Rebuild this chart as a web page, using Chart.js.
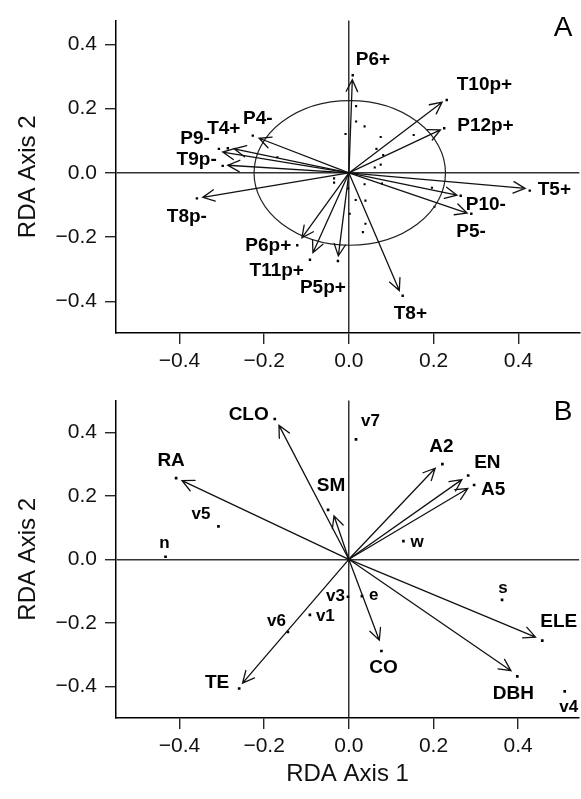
<!DOCTYPE html>
<html><head><meta charset="utf-8">
<script src="https://cdn.jsdelivr.net/npm/chart.js@4/dist/chart.umd.min.js"></script>
<style>
html,body{margin:0;padding:0;background:#fff;width:581px;height:799px;overflow:hidden}
#ca{position:absolute;left:0;top:0}
#cb{position:absolute;left:0;top:380px}
</style></head><body>
<canvas id="ca" width="581" height="380"></canvas>
<canvas id="cb" width="581" height="419"></canvas>
<script>
// ---------- shared ticks ----------
const tickValues = [-0.4, -0.2, 0.0, 0.2, 0.4];

// ---------- Panel A ----------
const arrowLabelsA = ['P6+','T10p+','P12p+','T5+','P10-','P5-','T8+','P5p+','T11p+','P6p+','T8p-','T9p-','P9-','T4+','P4-'];
const arrowTipXA = [0.008, 0.220, 0.216, 0.416, 0.255, 0.279, 0.119, -0.025, -0.085, -0.111, -0.345, -0.286, -0.298, -0.271, -0.212];
const arrowTipYA = [0.290, 0.220, 0.134, -0.048, -0.069, -0.125, -0.366, -0.258, -0.248, -0.202, -0.076, 0.024, 0.065, 0.075, 0.108];
const labelDotXA = [0.009, 0.231, 0.225, 0.427, 0.264, 0.289, 0.127, -0.026, -0.092, -0.122, -0.359, -0.298, -0.307, -0.286, -0.227];
const labelDotYA = [0.304, 0.227, 0.139, -0.055, -0.071, -0.127, -0.382, -0.274, -0.270, -0.225, -0.079, 0.022, 0.075, 0.077, 0.116];
const smallDotXA = [0.017, 0.017, 0.037, -0.008, 0.075, 0.153, 0.065, 0.081, 0.075, 0.061, -0.169, -0.035, -0.035, 0.037, 0.078, 0.196, -0.002, 0.016, 0.039, 0.202, 0.002, 0.039, 0.033];
const smallDotYA = [0.208, 0.160, 0.145, 0.121, 0.112, 0.118, 0.075, 0.056, 0.026, 0.017, 0.049, -0.017, -0.030, -0.035, -0.033, -0.046, -0.048, -0.084, -0.086, -0.105, -0.127, -0.158, -0.184];
const ellipseCenterA = [0.002, 0.0];
const ellipseRadiusA = [0.226, 0.225];

// ---------- Panel B ----------
const arrowLabelsB = ['CLO','RA','SM','A2','EN','A5','TE','CO','ELE','DBH'];
const arrowTipXB = [-0.165, -0.394, -0.035, 0.204, 0.267, 0.281, -0.251, 0.072, 0.441, 0.383];
const arrowTipYB = [0.422, 0.248, 0.137, 0.287, 0.251, 0.223, -0.390, -0.255, -0.245, -0.351];
const arrowDotXB = [-0.175, -0.408, -0.049, 0.221, 0.282, 0.296, -0.259, 0.077, 0.457, 0.398];
const arrowDotYB = [0.442, 0.256, 0.156, 0.300, 0.264, 0.234, -0.407, -0.289, -0.256, -0.369];
const pointLabelsB = ['v7','v5','n','w','v6','v1','v3','e','s','v4'];
const pointXB = [0.017, -0.308, -0.433, 0.129, -0.144, -0.092, -0.002, 0.031, 0.362, 0.510];
const pointYB = [0.378, 0.104, 0.008, 0.057, -0.229, -0.175, -0.118, -0.116, -0.128, -0.416];

// ---------- label placement (style, pixels) ----------
const labelStyle = {
  'P6+':[3,-15,'left'], 'T10p+':[10,-15,'left'], 'P12p+':[13,-3,'left'], 'T5+':[8,-1,'left'],
  'P10-':[5,9,'left'], 'P5-':[-15,18,'left'], 'T8+':[-9,18,'left'], 'P5p+':[-15,27,'center'],
  'T11p+':[-6,11,'right'], 'P6p+':[-6,1,'right'], 'T8p-':[-10,18,'center'], 'T9p-':[-6,-6,'right'],
  'P9-':[-9,-10,'right'], 'T4+':[-4,-19,'center'], 'P4-':[5,-17,'center'],
  'CLO':[-6,-4,'right'], 'RA':[-5,-17,'center'], 'SM':[3,-24,'center'], 'A2':[-1,-17,'center'],
  'EN':[6,-13,'left'], 'A5':[7,5,'left'], 'TE':[-10,-6,'right'], 'CO':[2,17,'center'],
  'ELE':[-2,-19,'left'], 'DBH':[-4,17,'center'],
  'v7':[5,-18,'left'], 'v5':[-8,-12,'right'], 'n':[-1,-13,'center'], 'w':[7,1,'left'],
  'v6':[-2,-11,'right'], 'v1':[6,1,'left'], 'v3':[-3,0,'right'], 'e':[7,-1,'left'],
  's':[1,-12,'center'], 'v4':[4,16,'center']
};

const FONT = "'Liberation Sans', Arial, Helvetica, sans-serif";
const zip = (xs, ys) => xs.map((x, i) => ({x, y: ys[i]}));

function drawArrow(ctx, x0, y0, x1, y1) {
  const ang = Math.atan2(y1 - y0, x1 - x0);
  const L = 13, a = 26 * Math.PI / 180;
  ctx.beginPath();
  ctx.moveTo(x0, y0); ctx.lineTo(x1, y1);
  ctx.moveTo(x1 - L * Math.cos(ang - a), y1 - L * Math.sin(ang - a));
  ctx.lineTo(x1, y1);
  ctx.lineTo(x1 - L * Math.cos(ang + a), y1 - L * Math.sin(ang + a));
  ctx.stroke();
}

function overlayPlugin(cfg) {
  return {
    id: 'overlay',
    afterDatasetsDraw(chart) {
      const ctx = chart.ctx, sx = chart.scales.x, sy = chart.scales.y;
      ctx.save();
      if (cfg.ellipse) {
        const cx = sx.getPixelForValue(cfg.ellipse.c[0]), cy = sy.getPixelForValue(cfg.ellipse.c[1]);
        const rx = Math.abs(sx.getPixelForValue(cfg.ellipse.c[0] + cfg.ellipse.r[0]) - cx);
        const ry = Math.abs(sy.getPixelForValue(cfg.ellipse.c[1] + cfg.ellipse.r[1]) - cy);
        ctx.strokeStyle = '#222'; ctx.lineWidth = 1.2;
        ctx.beginPath(); ctx.ellipse(cx, cy, rx, ry, 0, 0, 2 * Math.PI); ctx.stroke();
      }
      ctx.strokeStyle = '#111'; ctx.lineWidth = 1.3; ctx.lineCap = 'round'; ctx.lineJoin = 'miter';
      const ox = sx.getPixelForValue(0), oy = sy.getPixelForValue(0);
      cfg.tipX.forEach((tx, i) => drawArrow(ctx, ox, oy, sx.getPixelForValue(tx), sy.getPixelForValue(cfg.tipY[i])));
      ctx.fillStyle = '#000'; ctx.textBaseline = 'middle';
      cfg.labels.forEach(g => {
        ctx.font = g.font;
        g.names.forEach((n, i) => {
          const st = labelStyle[n];
          ctx.textAlign = st[2];
          ctx.fillText(n, sx.getPixelForValue(g.x[i]) + st[0], sy.getPixelForValue(g.y[i]) + st[1]);
        });
      });
      ctx.font = '28px ' + FONT; ctx.textAlign = 'center';
      ctx.fillText(cfg.letter, 563, cfg.letterY);
      ctx.restore();
    }
  };
}

function scaleOpts(min, max, isX, axisH, title) {
  return {
    type: 'linear', min, max,
    afterBuildTicks: s => { s.ticks = tickValues.map(v => ({value: v})); },
    afterFit: s => { if (isX) s.height = axisH; else s.width = 116; },
    grid: {
      display: true, drawOnChartArea: true, drawTicks: true,
      color: c => (c.tick && Math.abs(c.tick.value) < 1e-9) ? '#333' : 'rgba(0,0,0,0)',
      lineWidth: 1.5, tickColor: '#000', tickLength: 11, tickWidth: 1.2
    },
    border: {display: true, color: '#000', width: 1.5},
    ticks: {
      color: '#111', font: {family: FONT, size: 21}, padding: isX ? 5 : 8,
      callback: v => (v < -1e-9 ? '\u2212' : '') + Math.abs(v).toFixed(1),
      maxRotation: 0, autoSkip: false
    },
    title: title ? {display: true, text: title, color: '#111', font: {family: FONT, size: 24},
      padding: isX ? {top: 0, bottom: 10} : {top: 14, bottom: 0}} : {display: false}
  };
}

const dotDataset = (data, r) => ({
  type: 'scatter', data, pointStyle: 'rect', pointRadius: r, pointHoverRadius: r,
  backgroundColor: '#000', borderColor: '#000', borderWidth: 0
});

new Chart(document.getElementById('ca'), {
  type: 'scatter',
  data: {datasets: [
    dotDataset(zip(smallDotXA, smallDotYA), 1.5),
    dotDataset(zip(labelDotXA, labelDotYA), 1.7)
  ]},
  options: {
    responsive: false, animation: false, events: [],
    layout: {padding: {top: 17, left: 0, right: 0, bottom: 0}},
    plugins: {legend: {display: false}, tooltip: {enabled: false}},
    scales: {
      x: scaleOpts(-0.55, 0.544, true, 47, null),
      y: scaleOpts(-0.498, 0.474, false, 0, 'RDA Axis 2')
    }
  },
  plugins: [overlayPlugin({
    ellipse: {c: ellipseCenterA, r: ellipseRadiusA},
    tipX: arrowTipXA, tipY: arrowTipYA,
    labels: [{names: arrowLabelsA, x: labelDotXA, y: labelDotYA, font: 'bold 19px ' + FONT}],
    letter: 'A', letterY: 28
  })]
});

new Chart(document.getElementById('cb'), {
  type: 'scatter',
  data: {datasets: [
    dotDataset(zip(arrowDotXB, arrowDotYB), 1.9),
    dotDataset(zip(pointXB, pointYB), 1.9)
  ]},
  options: {
    responsive: false, animation: false, events: [],
    layout: {padding: {top: 15, left: 0, right: 0, bottom: 0}},
    plugins: {legend: {display: false}, tooltip: {enabled: false}},
    scales: {
      x: scaleOpts(-0.55, 0.544, true, 81, 'RDA Axis 1'),
      y: scaleOpts(-0.5, 0.5, false, 0, 'RDA Axis 2')
    }
  },
  plugins: [overlayPlugin({
    ellipse: null,
    tipX: arrowTipXB, tipY: arrowTipYB,
    labels: [
      {names: arrowLabelsB, x: arrowDotXB, y: arrowDotYB, font: 'bold 19px ' + FONT},
      {names: pointLabelsB, x: pointXB, y: pointYB, font: 'bold 17px ' + FONT}
    ],
    letter: 'B', letterY: 32
  })]
});
</script>
</body></html>
